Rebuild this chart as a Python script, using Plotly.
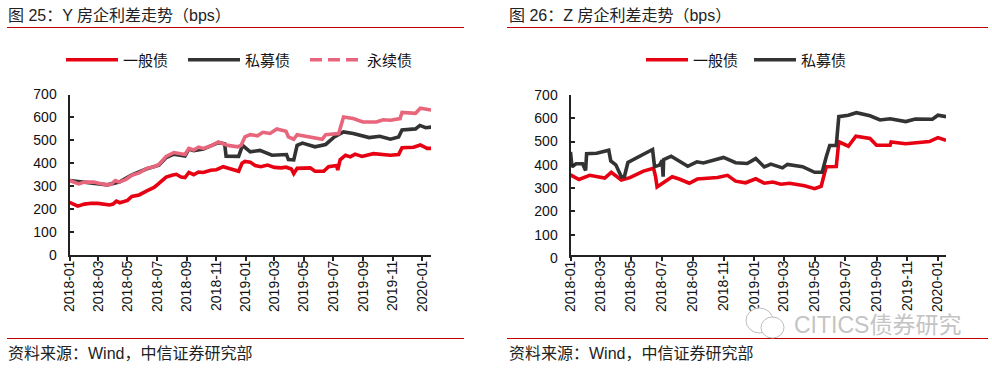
import plotly.graph_objects as go

FONT = "Liberation Sans, Noto Sans CJK SC, sans-serif"
RED, DARK, PINK = "#e60012", "#333333", "#e8667c"
W, H = 992, 369

TITLE_L = "图 25：Y 房企利差走势（bps）"
TITLE_R = "图 26：Z 房企利差走势（bps）"
SOURCE = "资料来源：Wind，中信证券研究部"
WATERMARK = "CITICS债券研究"
NAME_A, NAME_B, NAME_C = "一般债", "私募债", "永续债"

y_general_d = ["2018-01-01","2018-01-10","2018-01-18","2018-02-01","2018-02-15","2018-03-01","2018-03-12","2018-03-25","2018-04-01","2018-04-08","2018-04-15","2018-05-01","2018-05-10","2018-05-25","2018-06-10","2018-06-25","2018-07-05","2018-07-20","2018-08-01","2018-08-10","2018-08-20","2018-08-28","2018-09-05","2018-09-15","2018-09-25","2018-10-05","2018-10-20","2018-11-01","2018-11-15","2018-12-01","2018-12-17","2018-12-24","2018-12-30","2019-01-10","2019-01-20","2019-02-01","2019-02-15","2019-03-01","2019-03-15","2019-03-25","2019-04-05","2019-04-10","2019-04-17","2019-05-14","2019-05-24","2019-06-11","2019-06-21","2019-07-08","2019-07-10","2019-07-15","2019-07-26","2019-08-05","2019-08-15","2019-08-29","2019-09-22","2019-10-27","2019-11-13","2019-11-20","2019-12-14","2019-12-28","2020-01-11","2020-01-20"]
y_general_v = [230,222,213,222,226,225,221,218,222,235,228,238,255,262,280,295,312,340,348,352,340,338,360,350,362,360,370,372,385,375,365,400,408,405,390,385,392,382,380,383,375,355,378,380,365,365,385,390,370,415,435,428,440,430,442,435,438,468,470,480,465,465]

y_private_d = ["2018-01-01","2018-02-01","2018-03-20","2018-04-14","2018-05-10","2018-06-10","2018-07-05","2018-07-20","2018-08-05","2018-08-28","2018-09-05","2018-09-15","2018-10-05","2018-11-05","2018-11-18","2018-11-21","2018-12-17","2018-12-25","2019-01-10","2019-01-30","2019-02-24","2019-03-26","2019-03-30","2019-04-10","2019-04-17","2019-04-28","2019-05-24","2019-06-15","2019-07-03","2019-07-22","2019-08-11","2019-09-13","2019-10-05","2019-10-27","2019-11-13","2019-11-20","2019-12-18","2019-12-27","2020-01-08","2020-01-20"]
y_private_v = [325,318,306,318,350,376,392,425,440,432,462,455,462,490,485,431,430,478,450,456,435,438,416,415,478,488,472,482,515,537,530,512,518,505,515,545,550,565,555,558]

y_perp_d = ["2018-01-01","2018-01-12","2018-01-20","2018-02-01","2018-02-20","2018-03-05","2018-03-20","2018-03-28","2018-04-06","2018-04-14","2018-04-28","2018-05-10","2018-05-25","2018-06-10","2018-06-25","2018-07-05","2018-07-20","2018-08-05","2018-08-18","2018-08-28","2018-09-05","2018-09-15","2018-09-25","2018-10-05","2018-10-20","2018-11-05","2018-11-25","2018-12-15","2018-12-22","2018-12-30","2019-01-10","2019-01-25","2019-02-05","2019-02-20","2019-03-06","2019-03-25","2019-03-30","2019-04-10","2019-04-17","2019-05-14","2019-06-08","2019-06-15","2019-07-12","2019-07-22","2019-08-11","2019-08-31","2019-09-28","2019-10-12","2019-10-27","2019-11-16","2019-11-20","2019-12-18","2019-12-28","2020-01-20"]
y_perp_v = [325,315,310,318,318,312,306,308,325,318,330,348,358,378,385,395,430,447,442,438,465,458,470,465,475,493,478,472,478,515,525,520,535,530,550,540,515,505,525,515,505,525,530,602,595,580,580,590,588,595,622,618,640,632]

z_general_d = ["2018-01-01","2018-01-18","2018-02-08","2018-03-10","2018-03-23","2018-04-12","2018-04-29","2018-05-26","2018-06-15","2018-06-19","2018-06-22","2018-07-09","2018-07-22","2018-08-05","2018-08-25","2018-09-10","2018-10-20","2018-11-09","2018-11-25","2018-12-15","2019-01-04","2019-01-21","2019-02-07","2019-02-23","2019-03-12","2019-04-11","2019-05-01","2019-05-14","2019-05-24","2019-06-13","2019-06-18","2019-07-07","2019-07-22","2019-08-19","2019-09-01","2019-09-28","2019-09-30","2019-10-29","2019-12-15","2020-01-01","2020-01-17"]
z_general_v = [357,337,355,343,368,335,345,373,385,350,305,331,349,339,321,339,346,355,330,323,340,321,326,317,321,310,298,308,392,393,499,480,523,513,484,484,498,491,500,517,505]

z_private_d = ["2018-01-01","2018-01-04","2018-01-12","2018-01-25","2018-01-31","2018-02-02","2018-02-22","2018-03-18","2018-03-22","2018-04-01","2018-04-12","2018-04-18","2018-04-25","2018-05-18","2018-06-13","2018-06-17","2018-06-27","2018-07-02","2018-07-04","2018-07-05","2018-07-20","2018-08-22","2018-09-09","2018-09-22","2018-11-01","2018-11-25","2018-12-18","2019-01-04","2019-01-21","2019-02-03","2019-02-26","2019-03-08","2019-04-07","2019-05-01","2019-05-16","2019-05-24","2019-05-31","2019-06-13","2019-06-18","2019-07-07","2019-07-23","2019-08-19","2019-09-08","2019-09-28","2019-10-29","2019-11-17","2019-12-21","2020-01-01","2020-01-17"]
z_private_v = [455,392,405,405,376,448,450,463,417,400,349,349,410,435,466,392,399,420,349,422,437,394,413,408,432,409,406,427,391,403,387,402,392,368,368,434,483,483,607,613,624,611,593,598,586,597,596,613,607]

y_ticks = [0, 100, 200, 300, 400, 500, 600, 700]
x_ticks = ["2018-01","2018-03","2018-05","2018-07","2018-09","2018-11","2019-01","2019-03","2019-05","2019-07","2019-09","2019-11","2020-01"]


def px(v):
    return v / W


def py(v):
    return 1 - v / H


fig = go.Figure()


def line(name, xs, ys, color, ax, legend, show=True):
    fig.add_trace(go.Scatter(x=xs, y=ys, name=name, mode="lines", showlegend=show, legend=legend,
                             line=dict(color=color, width=3.6), xaxis=ax[0], yaxis=ax[1]))


def dashed_key(name, color, ax, legend):
    fig.add_trace(go.Scatter(x=[None], y=[None], name=name, mode="lines", legend=legend,
                             line=dict(color=color, width=3.6, dash="12px,6px"), xaxis=ax[0], yaxis=ax[1]))


L, R = ("x", "y"), ("x2", "y2")
line(NAME_A, y_general_d, y_general_v, RED, L, "legend")
line(NAME_B, y_private_d, y_private_v, DARK, L, "legend")
line(NAME_C, y_perp_d, y_perp_v, PINK, L, "legend", show=False)
dashed_key(NAME_C, PINK, L, "legend")
line(NAME_A, z_general_d, z_general_v, RED, R, "legend2")
line(NAME_B, z_private_d, z_private_v, DARK, R, "legend2")


def xaxis(x0, x1, end):
    return dict(domain=[px(x0), px(x1)], range=["2018-01-01", end], type="date", tickmode="array",
                tickvals=[t + "-01" for t in x_ticks], ticktext=x_ticks, tickangle=-90,
                ticks="outside", ticklen=4, tickwidth=2, tickcolor="#222", showline=True, linecolor="#222",
                linewidth=2, showgrid=False, zeroline=False, automargin=False, ticklabelstandoff=-6,
                tickfont=dict(size=14, color="#111", family=FONT))


def yaxis(y0, y1, anchor):
    return dict(domain=[py(y0), py(y1)], range=[0, 700], tickmode="array", tickvals=y_ticks,
                ticks="inside", ticklen=4, tickwidth=2, tickcolor="#222", showline=True, linecolor="#222",
                linewidth=2, showgrid=False, zeroline=False, anchor=anchor, automargin=False, ticklabelstandoff=8,
                tickfont=dict(size=14, color="#111", family=FONT))


def legend(x, itemw, ew):
    return dict(orientation="h", x=px(x), y=py(43.5), xanchor="left", yanchor="top", itemwidth=itemw,
                entrywidth=ew, entrywidthmode="pixels", bgcolor="rgba(0,0,0,0)", traceorder="normal",
                font=dict(size=15, color="#111", family=FONT), itemclick=False, itemdoubleclick=False)


def rule(x0, x1, y):
    return dict(type="line", xref="paper", yref="paper", x0=px(x0), x1=px(x1), y0=py(y), y1=py(y),
                line=dict(color="#c00000", width=1))


def text(s, x, y, size=16, color="#222"):
    return dict(text=s, xref="paper", yref="paper", x=px(x), y=py(y), xanchor="left", yanchor="middle",
                showarrow=False, font=dict(size=size, color=color, family=FONT))


def bubble(x0, y0, x1, y1):
    return dict(type="circle", xref="paper", yref="paper", x0=px(x0), x1=px(x1), y0=py(y0), y1=py(y1),
                fillcolor="white", line=dict(color="#bdbdbd", width=1))


fig.update_layout(
    width=W, height=H, margin=dict(l=0, r=0, t=0, b=0, autoexpand=False), paper_bgcolor="white", plot_bgcolor="white",
    xaxis=xaxis(69.5, 431, "2020-01-19"), yaxis=yaxis(255, 94.5, "x"),
    xaxis2=xaxis(570.5, 946, "2020-01-17"), yaxis2=yaxis(258, 95, "x2"),
    legend=legend(61, 52, 55), legend2=legend(641, 42, 51),
    shapes=[rule(7, 464, 27.5), rule(7, 464, 338.5), rule(507, 988, 27.5), rule(507, 988, 338.5),
            bubble(746, 308, 773, 333), bubble(761, 317, 784, 338)],
    annotations=[text(TITLE_L, 6, 15), text(TITLE_R, 507, 15), text(SOURCE, 6, 353), text(SOURCE, 507, 353),
                 text(WATERMARK, 792, 325, size=23, color="#c4c4c4")],
)
fig.write_html("out.html", config={"displayModeBar": False},
               post_script="var g=document.getElementById('{plot_id}');g.style.position='fixed';g.style.left='0';g.style.top='0';document.documentElement.style.overflow='hidden';")
